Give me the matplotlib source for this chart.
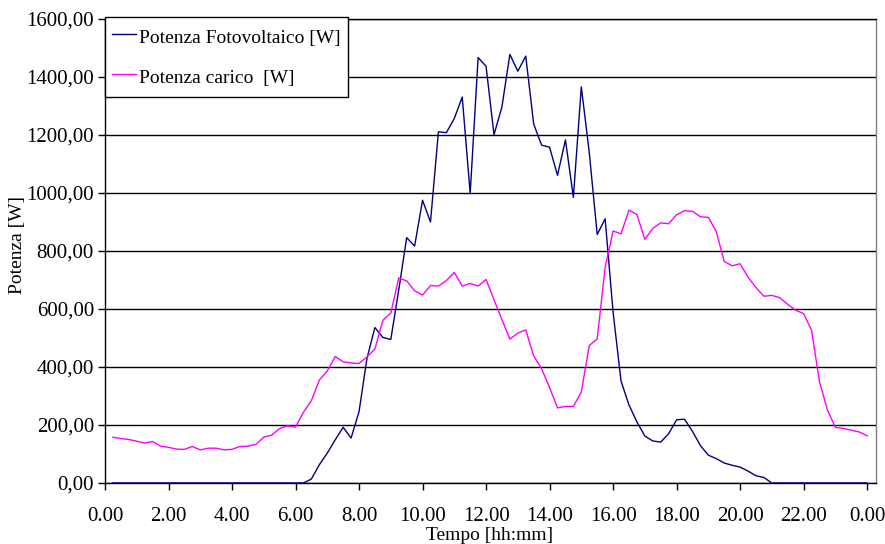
import numpy as np
import matplotlib
matplotlib.use("Agg")
import matplotlib.pyplot as plt

plt.rcParams['font.family'] = ['Liberation Serif', 'DejaVu Serif']

# Quarter-hour samples from 00:15 to 24:00
step_h = 0.25
n_samples = 96

# Photovoltaic power [W]
pv_power = [
    0, 0, 0, 0, 0, 0, 0, 0, 0, 0, 0, 0,
    0, 0, 0, 0, 0, 0, 0, 0, 0, 0, 0, 0,
    0, 14, 63, 103, 149, 192, 155, 246, 430, 536, 502, 495,
    665, 846, 817, 975, 900, 1211, 1208, 1257, 1331, 998, 1467, 1437,
    1201, 1297, 1478, 1420, 1472, 1238, 1165, 1158, 1061, 1183, 985, 1366,
    1140, 857, 911, 590, 352, 269, 211, 162, 145, 141, 170, 218,
    220, 178, 129, 96, 84, 69, 61, 55, 41, 25, 19, 0,
    0, 0, 0, 0, 0, 0, 0, 0, 0, 0, 0, 0,
]

# Load power [W]
load_power = [
    158, 153, 150, 144, 138, 143, 127, 123, 117, 116, 126, 114,
    120, 120, 114, 116, 126, 127, 133, 158, 165, 188, 197, 193,
    244, 284, 355, 386, 436, 418, 414, 412, 435, 462, 561, 586,
    707, 697, 663, 648, 681, 679, 698, 726, 679, 688, 679, 702,
    632, 563, 496, 517, 528, 438, 394, 329, 259, 264, 264, 314,
    474, 497, 743, 869, 859, 941, 926, 840, 878, 897, 894, 925,
    939, 937, 918, 916, 867, 764, 749, 756, 710, 674, 644, 647,
    639, 616, 596, 584, 527, 349, 252, 192, 188, 182, 176, 163,
]

series_labels = ["Potenza Fotovoltaico [W]", "Potenza carico  [W]"]
x_tick_hours = [0, 2, 4, 6, 8, 10, 12, 14, 16, 18, 20, 22, 24]
x_tick_labels = ["0.00", "2.00", "4.00", "6.00", "8.00", "10.00", "12.00",
                 "14.00", "16.00", "18.00", "20.00", "22.00", "0.00"]
y_ticks = [0, 200, 400, 600, 800, 1000, 1200, 1400, 1600]

hours = step_h * np.arange(1, n_samples + 1)

W, H = 885, 544
fig = plt.figure(figsize=(W / 100, H / 100), dpi=100)
ax = fig.add_axes([105 / W, 1 - 483 / H, (876 - 105) / W, (483 - 19) / H])

ax.plot(hours, pv_power, color="#000080", lw=1.0, label=series_labels[0], zorder=3)
ax.plot(hours, load_power, color="#FF00FF", lw=1.0, label=series_labels[1], zorder=3)

ax.set_xlim(0, 24.28)
ax.set_ylim(0, 1600)
ax.set_xticks(x_tick_hours)
ax.set_xticklabels(x_tick_labels)
ax.set_yticks(y_ticks)
ax.set_yticklabels([f"{v:.2f}".replace(".", ",") for v in y_ticks])

ax.yaxis.grid(True, color="black", lw=1.0)
ax.set_axisbelow(True)

ax.tick_params(axis="x", direction="out", length=5, width=1, pad=12, labelsize=15, colors="black")
ax.tick_params(axis="y", direction="out", length=5, width=1, pad=3, labelsize=15, colors="black")

for side in ("left", "bottom", "top"):
    ax.spines[side].set_color("black")
    ax.spines[side].set_linewidth(1.0)
ax.spines["right"].set_color("#808080")
ax.spines["right"].set_linewidth(1.0)

fig.text(18 / W, 1 - 245 / H, "Potenza [W]", rotation=90, ha="center", va="center", fontsize=14)
fig.text(490 / W, 1 - 536 / H, "Tempo [hh:mm]", ha="center", va="center", fontsize=14)

leg = ax.legend(loc="upper left", bbox_to_anchor=(105 / W, 1 - 17 / H),
                bbox_transform=fig.transFigure, borderaxespad=0,
                fontsize=14, frameon=True, fancybox=False, framealpha=1,
                edgecolor="black", handlelength=1.24, handleheight=1.7,
                handletextpad=0.15, labelspacing=0.7, borderpad=0.36)
leg.get_frame().set_linewidth(1.0)

fig.savefig("out.png", dpi=100)
